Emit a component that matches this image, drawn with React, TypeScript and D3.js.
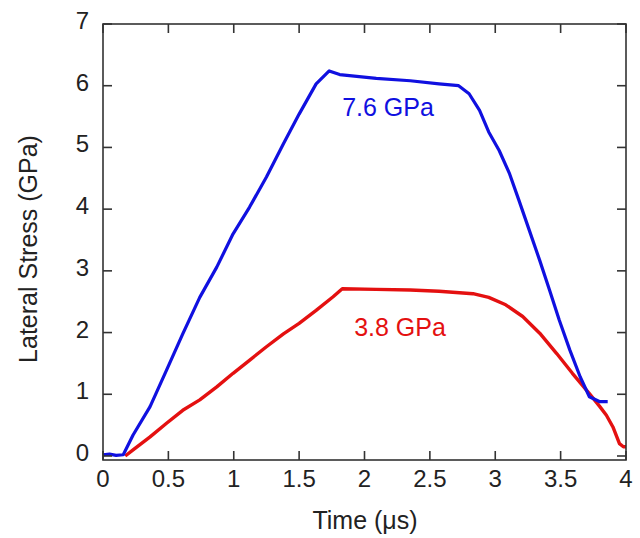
import React from "react";
import * as d3 from "d3";

const xTicks = [0, 0.5, 1, 1.5, 2, 2.5, 3, 3.5, 4];
const xTickLabels = ["0", "0.5", "1", "1.5", "2", "2.5", "3", "3.5", "4"];
const yTicks = [0, 1, 2, 3, 4, 5, 6, 7];
const yTickLabels = ["0", "1", "2", "3", "4", "5", "6", "7"];

const blueT = [0, 0.05, 0.1, 0.155, 0.23, 0.36, 0.486, 0.61, 0.74, 0.87, 0.995, 1.12, 1.25, 1.38, 1.5, 1.63, 1.73, 1.81, 2.09, 2.35, 2.57, 2.72, 2.8, 2.88, 2.95, 3.03, 3.11, 3.18, 3.26, 3.34, 3.415, 3.49, 3.57, 3.65, 3.72, 3.8, 3.86];
const blueS = [0.02, 0.03, 0.01, 0.02, 0.34, 0.8, 1.39, 1.98, 2.57, 3.06, 3.6, 4.03, 4.52, 5.06, 5.54, 6.03, 6.24, 6.18, 6.12, 6.08, 6.03, 6.0, 5.87, 5.6, 5.25, 4.95, 4.57, 4.15, 3.66, 3.17, 2.69, 2.2, 1.72, 1.28, 0.96, 0.88, 0.88];

const redT = [0.17, 0.23, 0.36, 0.486, 0.61, 0.74, 0.87, 0.995, 1.12, 1.25, 1.38, 1.5, 1.63, 1.76, 1.83, 2.09, 2.35, 2.57, 2.83, 2.95, 3.08, 3.21, 3.34, 3.47, 3.59, 3.72, 3.8, 3.85, 3.9, 3.95, 3.98, 4.0];
const redS = [0.0, 0.1, 0.31, 0.53, 0.74, 0.91, 1.12, 1.34, 1.55, 1.77, 1.98, 2.15, 2.36, 2.58, 2.71, 2.7, 2.69, 2.67, 2.63, 2.57, 2.45, 2.26, 1.99, 1.66, 1.34, 1.01, 0.8, 0.66, 0.47, 0.2, 0.15, 0.15];

const seriesLabels = ["7.6 GPa", "3.8 GPa"];

export default function App() {
  const W = 640, H = 538;
  const left = 103, right = 626, top = 24, bottom = 460;
  const x = d3.scaleLinear().domain([0, 4]).range([left, right]);
  const y = d3.scaleLinear().domain([-0.065, 7]).range([bottom, top]);
  const line = d3.line<[number, number]>().x(d => x(d[0])).y(d => y(d[1]));
  const blue = blueT.map((t, i) => [t, blueS[i]] as [number, number]);
  const red = redT.map((t, i) => [t, redS[i]] as [number, number]);
  const font = "Arial, 'Liberation Sans', sans-serif";
  const axisColor = "#333";
  const tl = 9;
  return (
    <svg width={W} height={H} style={{ position: "absolute", left: 0, top: 0, background: "#fff" }}>
      <path d={line(red) || ""} fill="none" stroke="#e41010" strokeWidth={3.4} strokeLinejoin="round" />
      <path d={line(blue) || ""} fill="none" stroke="#1010e0" strokeWidth={3.2} strokeLinejoin="round" />
      <rect x={left} y={top} width={right - left} height={bottom - top} fill="none" stroke={axisColor} strokeWidth={1.6} />
      {xTicks.map((t, i) => (
        <g key={"x" + i}>
          <line x1={x(t)} x2={x(t)} y1={bottom} y2={bottom - tl} stroke={axisColor} strokeWidth={1.6} />
          <line x1={x(t)} x2={x(t)} y1={top} y2={top + tl} stroke={axisColor} strokeWidth={1.6} />
          <text x={x(t)} y={487} textAnchor="middle" fontFamily={font} fontSize={24} fill="#222">{xTickLabels[i]}</text>
        </g>
      ))}
      {yTicks.map((t, i) => (
        <g key={"y" + i}>
          <line x1={left} x2={left + tl} y1={y(t)} y2={y(t)} stroke={axisColor} strokeWidth={1.6} />
          <line x1={right} x2={right - tl} y1={y(t)} y2={y(t)} stroke={axisColor} strokeWidth={1.6} />
          <text x={89} y={y(t) + 5} textAnchor="end" fontFamily={font} fontSize={24} fill="#222">{yTickLabels[i]}</text>
        </g>
      ))}
      <text x={388} y={116} textAnchor="middle" fontFamily={font} fontSize={25} fill="#1010e0">{seriesLabels[0]}</text>
      <text x={400} y={336} textAnchor="middle" fontFamily={font} fontSize={25} fill="#e41010">{seriesLabels[1]}</text>
      <text x={365} y={529} textAnchor="middle" fontFamily={font} fontSize={25} fill="#222">Time (μs)</text>
      <text transform={`translate(37,249) rotate(-90)`} textAnchor="middle" fontFamily={font} fontSize={25} fill="#222">Lateral Stress (GPa)</text>
    </svg>
  );
}
